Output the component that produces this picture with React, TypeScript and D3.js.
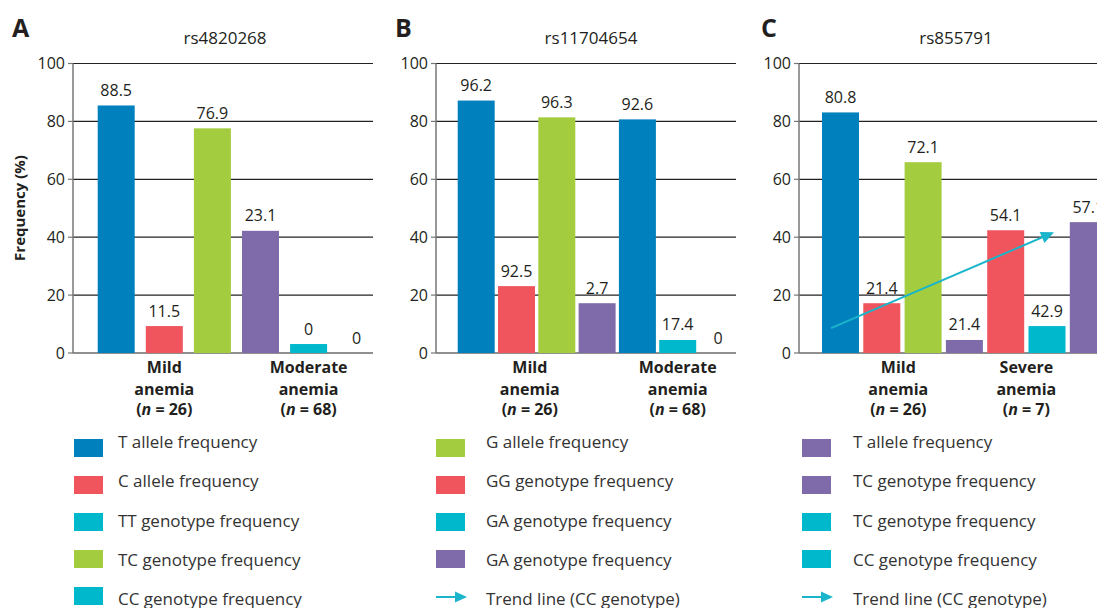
import React from "react";
import * as d3 from "d3";

const COLORS: Record<string, string> = {
  blue: "#0180BE",
  red: "#F0555E",
  green: "#A3CD3F",
  purple: "#7F6BAA",
  cyan: "#00B8CB",
};

const yTicks = [0, 20, 40, 60, 80, 100];

// Panel A
const titleA = "rs4820268";
const valuesA = [85.5, 9.3, 77.6, 42.2, 3.1, 0];
const labelsA = ["88.5", "11.5", "76.9", "23.1", "0", "0"];
const colorsA = ["blue", "red", "green", "purple", "cyan", "cyan"];
const categoriesA = [
  ["Mild", "anemia", "26"],
  ["Moderate", "anemia", "68"],
];

// Panel B
const titleB = "rs11704654";
const valuesB = [87.2, 23.1, 81.4, 17.2, 80.7, 4.5, 0];
const labelsB = ["96.2", "92.5", "96.3", "2.7", "92.6", "17.4", "0"];
const colorsB = ["blue", "red", "green", "purple", "blue", "cyan", "cyan"];
const categoriesB = [
  ["Mild", "anemia", "26"],
  ["Moderate", "anemia", "68"],
];

// Panel C
const titleC = "rs855791";
const valuesC = [83.1, 17.2, 65.9, 4.5, 42.4, 9.3, 45.2];
const labelsC = ["80.8", "21.4", "72.1", "21.4", "54.1", "42.9", "57.1"];
const colorsC = ["blue", "red", "green", "purple", "red", "cyan", "purple"];
const categoriesC = [
  ["Mild", "anemia", "26"],
  ["Severe", "anemia", "7"],
];
const trendC = [8.6, 41.7];

// Legends
const legendA = ["T allele frequency", "C allele frequency", "TT genotype frequency", "TC genotype frequency", "CC genotype frequency"];
const legendColorsA = ["blue", "red", "cyan", "green", "cyan"];
const legendB = ["G allele frequency", "GG genotype frequency", "GA genotype frequency", "GA genotype frequency", "Trend line (CC genotype)"];
const legendColorsB = ["green", "red", "cyan", "purple", "arrow"];
const legendC = ["T allele frequency", "TC genotype frequency", "TC genotype frequency", "CC genotype frequency", "Trend line (CC genotype)"];
const legendColorsC = ["purple", "purple", "cyan", "cyan", "arrow"];

const FONT = "'Open Sans', 'Noto Sans', sans-serif";
const TEXT = "#231F20";

const y = d3.scaleLinear().domain([0, 100]).range([353, 63.5]);

type PanelProps = {
  letter: string;
  title: string;
  values: number[];
  labels: string[];
  colors: string[];
  categories: string[][];
  layout: {
    axisX: number;
    right: number;
    firstBar: number;
    step: number;
    barW: number;
    letterX: number;
    titleX: number;
    catSlots: number[];
    trendSlots?: number[];
  };
  trend?: number[];
  yTitle?: boolean;
};

function Panel({ letter, title, values, labels, colors, categories, layout, trend, yTitle }: PanelProps) {
  const n = values.length;
  const { axisX, right, firstBar, step, barW } = layout;
  const x = d3
    .scaleBand<number>()
    .domain(d3.range(n))
    .range([firstBar, firstBar + step * (n - 1) + barW])
    .paddingInner((step - barW) / step)
    .paddingOuter(0);
  const slotCenter = (s: number) => (x(0) as number) + x.bandwidth() / 2 + s * x.step();
  const line = d3.line<[number, number]>();
  let trendPath: string | null = null;
  let head: string | null = null;
  if (trend && layout.trendSlots) {
    const p0: [number, number] = [slotCenter(layout.trendSlots[0]), y(trend[0])];
    const p1: [number, number] = [slotCenter(layout.trendSlots[1]), y(trend[1])];
    const ang = Math.atan2(p1[1] - p0[1], p1[0] - p0[0]);
    const L = 13, W = 6;
    const bx = p1[0] - L * Math.cos(ang), by = p1[1] - L * Math.sin(ang);
    const px = -Math.sin(ang), py = Math.cos(ang);
    trendPath = line([p0, [bx + 2 * Math.cos(ang), by + 2 * Math.sin(ang)]]);
    head = line([p1, [bx + W * px, by + W * py], [bx - W * px, by - W * py]]) + "Z";
  }
  return (
    <g>
      <text x={layout.letterX} y={37} fontFamily={FONT} fontWeight={700} fontSize={25} fill={TEXT}>
        {letter}
      </text>
      <text x={layout.titleX} y={44} textAnchor="middle" fontFamily={FONT} fontSize={17} fill={TEXT}>
        {title}
      </text>
      {yTitle && (
        <text
          transform={`translate(25,${208}) rotate(-90)`}
          textAnchor="middle"
          fontFamily={FONT}
          fontWeight={700}
          fontSize={15}
          fill={TEXT}
        >
          Frequency (%)
        </text>
      )}
      {yTicks.map((t) => (
        <g key={t}>
          <line x1={axisX} x2={right} y1={y(t)} y2={y(t)} stroke="#222" strokeWidth={1.2} />
          <line x1={axisX - 5} x2={axisX} y1={y(t)} y2={y(t)} stroke="#777" strokeWidth={1.2} />
          <text
            x={axisX - 8}
            y={y(t)}
            dy="0.36em"
            textAnchor="end"
            fontFamily={FONT}
            fontSize={16}
            fill={TEXT}
          >
            {t}
          </text>
        </g>
      ))}
      <line x1={axisX} x2={axisX} y1={y(100)} y2={y(0)} stroke="#777" strokeWidth={1.5} />
      {values.map((v, i) => (
        <rect
          key={i}
          x={x(i)}
          y={y(v)}
          width={x.bandwidth()}
          height={y(0) - y(v)}
          fill={COLORS[colors[i]]}
        />
      ))}
      {labels.map((l, i) => (
        <text
          key={i}
          x={(x(i) as number) + x.bandwidth() / 2}
          y={y(values[i]) - 9.5}
          textAnchor="middle"
          fontFamily={FONT}
          fontSize={16}
          fill={TEXT}
        >
          {l}
        </text>
      ))}
      {trendPath && <path d={trendPath} stroke="#1AB4CB" strokeWidth={2} fill="none" />}
      {head && <path d={head} fill="#1AB4CB" />}
      {categories.map((c, k) => {
        const cx = slotCenter(layout.catSlots[k]);
        return (
          <text key={k} textAnchor="middle" fontFamily={FONT} fontWeight={700} fontSize={16} fill={TEXT}>
            <tspan x={cx} y={373}>{c[0]}</tspan>
            <tspan x={cx} y={394.5}>{c[1]}</tspan>
            <tspan x={cx} y={415}>
              (<tspan fontStyle="italic">n</tspan> = {c[2]})
            </tspan>
          </text>
        );
      })}
    </g>
  );
}

function Legend({ items, colors, swatchX, textX }: { items: string[]; colors: string[]; swatchX: number; textX: number }) {
  return (
    <g>
      {items.map((t, i) => {
        const top = 439 + i * 37;
        const c = colors[i];
        return (
          <g key={i}>
            {c === "arrow" ? (
              <g>
                <line x1={swatchX} x2={swatchX + 20} y1={top + 10} y2={top + 10} stroke="#1AB4CB" strokeWidth={2} />
                <path
                  d={`M${swatchX + 31},${top + 10} L${swatchX + 19},${top + 4.5} L${swatchX + 19},${top + 15.5} Z`}
                  fill="#1AB4CB"
                />
              </g>
            ) : (
              <rect x={swatchX} y={top} width={29} height={18} fill={COLORS[c]} />
            )}
            <text x={textX} y={448 + i * 39.3} fontFamily={FONT} fontSize={17} fill="#333">
              {t}
            </text>
          </g>
        );
      })}
    </g>
  );
}

export default function App() {
  return (
    <svg
      width={1097}
      height={608}
      style={{ position: "absolute", left: 0, top: 0, background: "#fff", overflow: "hidden" }}
    >
      <rect x={0} y={0} width={1097} height={608} fill="#fff" />
      <Panel
        letter="A"
        title={titleA}
        values={valuesA}
        labels={labelsA}
        colors={colorsA}
        categories={categoriesA}
        yTitle
        layout={{ axisX: 73, right: 373, firstBar: 97.7, step: 48.1, barW: 37, letterX: 12, titleX: 225, catSlots: [1, 4] }}
      />
      <Panel
        letter="B"
        title={titleB}
        values={valuesB}
        labels={labelsB}
        colors={colorsB}
        categories={categoriesB}
        layout={{ axisX: 436, right: 736, firstBar: 457.7, step: 40.3, barW: 37, letterX: 395, titleX: 591, catSlots: [1.33, 5] }}
      />
      <Panel
        letter="C"
        title={titleC}
        values={valuesC}
        labels={labelsC}
        colors={colorsC}
        categories={categoriesC}
        trend={trendC}
        layout={{ axisX: 799, right: 1100, firstBar: 822, step: 41.3, barW: 37, letterX: 761, titleX: 956, catSlots: [1.4, 4.5], trendSlots: [-0.23, 5.17] }}
      />
      <Legend items={legendA} colors={legendColorsA} swatchX={74} textX={118} />
      <Legend items={legendB} colors={legendColorsB} swatchX={436} textX={486} />
      <Legend items={legendC} colors={legendColorsC} swatchX={802} textX={853} />
    </svg>
  );
}
